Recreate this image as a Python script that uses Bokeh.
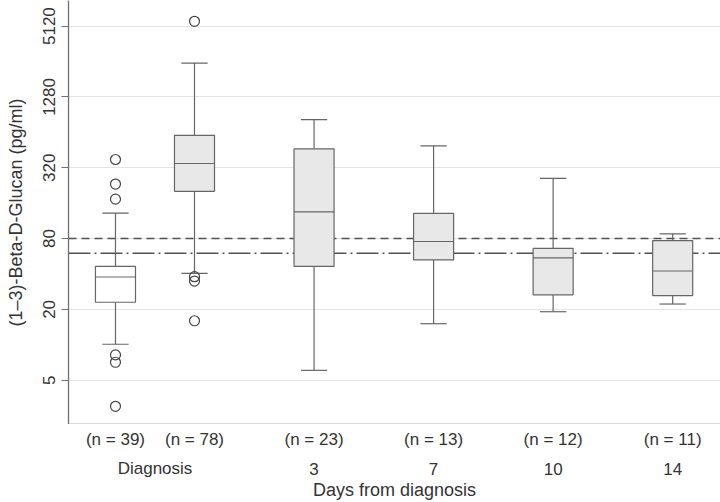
import numpy as np
from bokeh.plotting import figure
from bokeh.layouts import column
from bokeh.models import (FixedTicker, PrintfTickFormatter, Span,
                          ColumnDataSource, Range1d)
from bokeh.core.properties import value
from bokeh.embed import file_html
from bokeh.resources import INLINE

# ---------------- data ----------------
n_labels = ["(n = 39)", "(n = 78)", "(n = 23)", "(n = 13)", "(n = 12)", "(n = 11)"]
day_labels = ["Diagnosis", "3", "7", "10", "14"]
x_title = "Days from diagnosis"
y_title = "(1\u20133)-Beta-D-Glucan (pg/ml)"
q1 = [23.0, 201.6, 46.4, 52.6, 26.6, 26.2]
median = [37.7, 347.5, 135.0, 75.5, 54.7, 42.4]
q3 = [46.4, 602.0, 463.0, 130.8, 66.0, 76.9]
lower_whisker = [10.1, 40.4, 6.06, 15.1, 19.1, 22.2]
upper_whisker = [131.6, 2483.0, 819.0, 491.0, 260.0, 87.8]
outliers_group1 = [376.0, 232.6, 173.0, 8.2, 7.1, 3.0]
outliers_group2 = [5626.0, 37.9, 34.8, 16.0]
cutoff_dashed = 80
cutoff_dashdot = 60
y_ticks = [5, 20, 80, 320, 1280, 5120]

# ---------------- layout ----------------
positions = [-0.661, 0.0, 1.0, 2.0, 3.0, 4.0]
day_positions = [(positions[0] + positions[1]) / 2] + positions[2:]
X0, X1 = -1.054, 4.40
box_w = 0.335
cap_w = 0.22
fills = ["#ffffff"] + ["#e8e8e8"] * 5
FONT = "Liberation Sans"
TXT = "#333333"
LINE = "#666666"
W = 720
H_MAIN = 424
H_LAB = 78
LEFT = 68

xr = Range1d(X0, X1)
p = figure(width=W, height=H_MAIN, output_backend="svg", toolbar_location=None,
           y_axis_type="log", x_range=xr, y_range=Range1d(2.1, 8450))
p.min_border_top = 0
p.min_border_right = 0
p.min_border_left = LEFT
p.min_border_bottom = 0
p.outline_line_color = None
p.background_fill_color = "white"
p.border_fill_color = "white"

src = ColumnDataSource(dict(x=positions, q1=q1, q3=q3, med=median,
                            lo=lower_whisker, hi=upper_whisker, fill=fills,
                            xl=[x - box_w / 2 for x in positions],
                            xr=[x + box_w / 2 for x in positions],
                            cl=[x - cap_w / 2 for x in positions],
                            cr=[x + cap_w / 2 for x in positions]))

# reference lines (behind the boxes)
p.add_layout(Span(location=cutoff_dashed, dimension="width", line_color="#505050",
                  line_width=1.5, line_dash="8 5", level="underlay"))
p.add_layout(Span(location=cutoff_dashdot, dimension="width", line_color="#505050",
                  line_width=1.5, line_dash="22 4 2 4", level="underlay"))

# whiskers
p.segment(x0="x", x1="x", y0="q3", y1="hi", source=src, line_color=LINE, line_width=1.2)
p.segment(x0="x", x1="x", y0="lo", y1="q1", source=src, line_color=LINE, line_width=1.2)
p.segment(x0="cl", x1="cr", y0="hi", y1="hi", source=src, line_color=LINE, line_width=1.2)
p.segment(x0="cl", x1="cr", y0="lo", y1="lo", source=src, line_color=LINE, line_width=1.2)
# boxes
p.vbar(x="x", width=box_w, top="q3", bottom="q1", source=src, fill_color="fill",
       line_color=LINE, line_width=1.2)
p.segment(x0="xl", x1="xr", y0="med", y1="med", source=src, line_color=LINE, line_width=1.2)
# outliers
p.scatter([positions[0]] * len(outliers_group1), outliers_group1, size=10,
          fill_color=None, line_color="#444444", line_width=1.2)
p.scatter([positions[1]] * len(outliers_group2), outliers_group2, size=10,
          fill_color=None, line_color="#444444", line_width=1.2)

# y axis
ya = p.yaxis[0]
ya.ticker = FixedTicker(ticks=y_ticks, minor_ticks=[])
ya.formatter = PrintfTickFormatter(format="%d")
ya.major_label_orientation = "vertical"
ya.axis_label = y_title
ya.axis_label_text_font = FONT
ya.axis_label_text_font_style = "normal"
ya.axis_label_text_font_size = "18px"
ya.axis_label_text_color = TXT
ya.axis_label_standoff = 15
ya.major_label_text_font = FONT
ya.major_label_text_font_size = "17px"
ya.major_label_text_color = TXT
ya.major_label_standoff = 6
ya.axis_line_color = "#707070"
ya.axis_line_width = 1.3
ya.major_tick_line_color = "#707070"
ya.major_tick_out = 7
ya.major_tick_in = 0
ya.minor_tick_line_color = None

p.ygrid.ticker = FixedTicker(ticks=y_ticks)
p.ygrid.grid_line_color = "#e4e4e4"
p.ygrid.grid_line_width = 1
p.xgrid.grid_line_color = None

# x axis: line only
xa = p.xaxis[0]
xa.ticker = FixedTicker(ticks=[])
xa.major_tick_line_color = None
xa.minor_tick_line_color = None
xa.major_label_text_font_size = "0px"
xa.major_label_standoff = 0
xa.axis_line_color = "#707070"
xa.axis_line_width = 1.3

# ---------------- label strip below the axis ----------------
q = figure(width=W, height=H_LAB, output_backend="svg", toolbar_location=None,
           x_range=xr, y_range=Range1d(0, H_LAB),
           x_axis_location=None, y_axis_location=None)
q.min_border_top = 0
q.min_border_right = 0
q.min_border_left = LEFT
q.min_border_bottom = 0
q.outline_line_color = None
q.grid.grid_line_color = None
q.background_fill_color = "white"
q.border_fill_color = "white"

q.text(x=positions, y=[H_LAB - 15] * len(positions), text=n_labels,
       text_font=value(FONT), text_font_size="17px", text_color=TXT,
       text_align="center", text_baseline="middle")
q.text(x=day_positions, y=[H_LAB - 44] * len(day_positions), text=day_labels,
       text_font=value(FONT), text_font_size="17px", text_color=TXT,
       text_align="center", text_baseline="middle")
q.text(x=[(X0 + X1) / 2], y=[H_LAB - 65], text=[x_title],
       text_font=value(FONT), text_font_size="18px", text_color=TXT,
       text_align="center", text_baseline="middle")

layout = column(p, q, spacing=0)
open("out.html", "w").write(file_html(layout, INLINE))
